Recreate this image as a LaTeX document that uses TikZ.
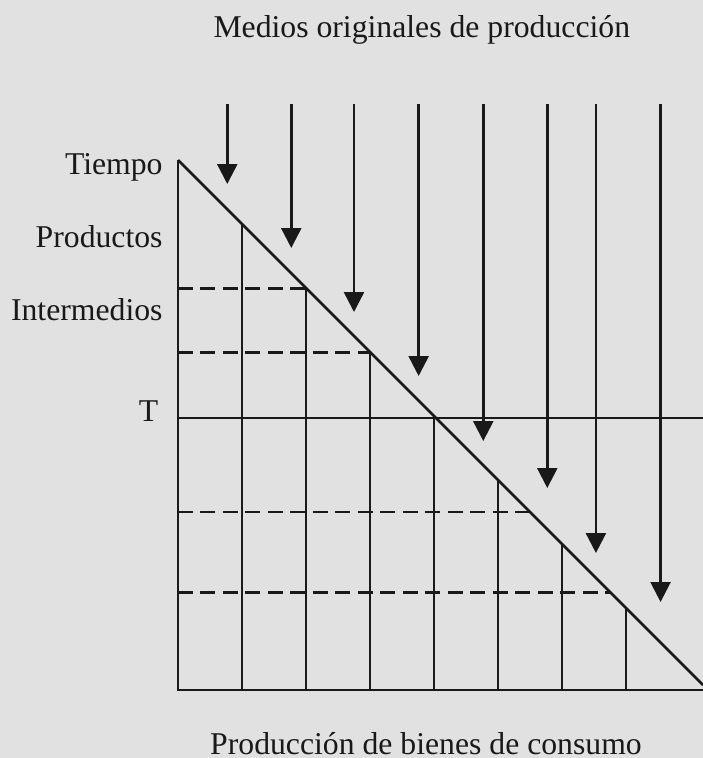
\documentclass[tikz,border=0pt]{standalone}
\usepackage{fontspec}
\setmainfont{Liberation Serif}
\usepackage{tikz}
\usetikzlibrary{positioning,arrows.meta}
\definecolor{paper}{RGB}{225,225,225}
\definecolor{ink}{RGB}{25,25,25}

\begin{document}
\begin{tikzpicture}
    [ font = \fontsize{14.1}{17}\selectfont
    , label/.style =
      { inner sep=0pt, text=ink }
    , grid/.style =
      { draw=ink, line width=1.2pt }
    , level/.style =
      { draw=ink, line width=1.2pt, dash pattern=on 6.5pt off 3.5pt }
    , flow/.style =
      { draw=ink, line width=1.1pt, -{Triangle[length=.31cm,width=.31cm]} }
    ]
    \fill [paper] (-2.781,-1.0625) rectangle (8.203,10.781);
    \useasboundingbox (-2.781,-1.0625) rectangle (8.203,10.781);

    \node [label,anchor=base] (medios) at (3.81,10.19) {Medios originales de producci\'on};
    \node [label,anchor=base] (consumo) at (3.875,-1.0) {Producci\'on de bienes de consumo};
    \node [label,anchor=base east] (tiempo) at (-0.234,8.047) {Tiempo};
    \node [label,anchor=base east] (productos) at (-0.234,6.906) {Productos};
    \node [label,anchor=base east] (intermedios) at (-0.234,5.78) {Intermedios};
    \node [label,anchor=base east] (T) at (-0.30,4.19) {T};

    % frame and time line
    \coordinate (origin) at (0,0);
    \coordinate (top) at (0,8.28);
    \coordinate (end) at (8.203,0.077);
    \coordinate (corner) at (8.203,0);
    \draw [grid] (top) -- (origin) -- (corner);
    \draw [grid] (top) -- (end);
    \draw [grid] (0,4.25) -- (8.203,4.25);

    % stages
    \draw [grid] (1,0) -- (1,7.28);
    \draw [grid] (2,0) -- (2,6.28);
    \draw [grid] (3,0) -- (3,5.28);
    \draw [grid] (4,0) -- (4,4.28);
    \draw [grid] (5,0) -- (5,3.28);
    \draw [grid] (6,0) -- (6,2.28);
    \draw [grid] (7,0) -- (7,1.28);

    \draw [level] (0,6.27) -- (2.01,6.27);
    \draw [level] (0,5.27) -- (3.01,5.27);
    \draw [level] (0,2.78) -- (5.50,2.78);
    \draw [level] (0,1.52) -- (6.76,1.52);

    % original means
    \coordinate (in1) at (0.77,9.15);
    \coordinate (in2) at (1.77,9.15);
    \coordinate (in3) at (2.75,9.15);
    \coordinate (in4) at (3.76,9.15);
    \coordinate (in5) at (4.77,9.15);
    \coordinate (in6) at (5.77,9.15);
    \coordinate (in7) at (6.53,9.15);
    \coordinate (in8) at (7.54,9.15);
    \coordinate (out1) at (0.77,7.906);
    \coordinate (out2) at (1.77,6.906);
    \coordinate (out3) at (2.75,5.906);
    \coordinate (out4) at (3.76,4.906);
    \coordinate (out5) at (4.77,3.89);
    \coordinate (out6) at (5.77,3.156);
    \coordinate (out7) at (6.53,2.14);
    \coordinate (out8) at (7.54,1.375);

    \draw [flow] (in1) -- (out1);
    \draw [flow] (in2) -- (out2);
    \draw [flow] (in3) -- (out3);
    \draw [flow] (in4) -- (out4);
    \draw [flow] (in5) -- (out5);
    \draw [flow] (in6) -- (out6);
    \draw [flow] (in7) -- (out7);
    \draw [flow] (in8) -- (out8);
  \end{tikzpicture}
\end{document}
